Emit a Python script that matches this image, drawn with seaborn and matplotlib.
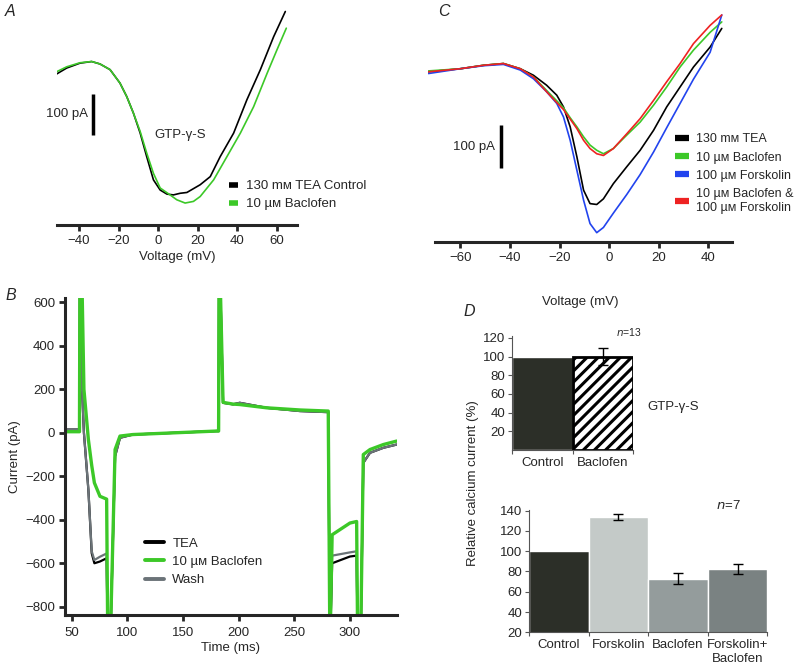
import matplotlib.pyplot as plt
import numpy as np
import pandas as pd
import seaborn as sns
from matplotlib.lines import Line2D

# ---- panel A: I-V curves with GTP-gamma-S (mV, pA relative) ----
a_ctrl_v = [-52.1, -46.2, -39.5, -33.6, -29.4, -24.3, -19.3, -15.9, -12.5, -9.1, -5.8, -2.4,
            1.0, 4.4, 7.7, 11.1, 14.5, 21.2, 26.3, 31.3, 38.1, 44.8, 51.6, 58.3, 64.2]
a_ctrl_i = [-33, -16, -4, 0, -6, -20, -53, -86, -127, -176, -234, -291,
            -316, -326, -328, -324, -322, -303, -283, -234, -176, -94, -20, 61, 123]
a_bac_v = [-52.1, -46.2, -39.5, -33.6, -29.4, -24.3, -19.3, -15.9, -12.5, -9.1, -5.8, -2.4,
           1.0, 6.0, 9.4, 13.6, 17.8, 21.2, 28.0, 34.7, 41.5, 48.2, 55.0, 60.0, 64.7]
a_bac_i = [-27, -13, -3, 0, -6, -20, -53, -86, -127, -172, -225, -275,
           -311, -328, -340, -348, -344, -332, -291, -234, -176, -111, -29, 29, 82]

# ---- panel C: I-V curves with forskolin ----
c_v = [-72.8, -60.0, -50.6, -42.6, -35.8, -30.5, -25.2, -21.1, -18.4, -15.7, -13.0, -10.3,
       -7.7, -5.0, -2.3, 1.7, 7.1, 12.5, 17.9, 23.2, 28.6, 34.0, 40.7, 45.4]
c_tea = [-19, -12, -4, 0, -12, -27, -50, -73, -100, -146, -215, -292,
         -323, -325, -312, -277, -238, -200, -154, -100, -54, -8, 38, 81]
c_bac = [-17, -12, -4, 0, -12, -31, -62, -86, -102, -125, -146, -169,
         -188, -200, -208, -196, -165, -135, -96, -54, -8, 31, 72, 96]
c_fsk = [-23, -12, -5, -2, -15, -35, -65, -92, -123, -177, -246, -315,
         -369, -390, -378, -345, -302, -256, -204, -148, -92, -36, 26, 112]
c_both = [-19, -12, -4, 0, -12, -31, -65, -90, -106, -128, -150, -177,
          -196, -208, -212, -196, -162, -127, -85, -42, 0, 46, 88, 112]

# ---- panel B: current traces over time ----
b_t = [44, 57, 57.5, 58.5, 61, 65, 68, 70.4, 75.4, 81.4, 82.5, 84.5, 89, 93.4, 105, 180,
       182, 182.5, 186, 195, 201, 225, 255, 280.5, 282, 284, 300, 306, 307, 309.5, 312,
       318, 330, 342]
b_tea = [15, 15, 900, 300, 0, -262, -554, -600, -592, -577, -1000, -1000, -108, -23, -8, 8,
         8, 900, 138, 131, 138, 115, 100, 95, -1000, -600, -569, -565, -1000, -1000, -138,
         -92, -69, -54]
b_bac = [5, 5, 900, 900, 200, -31, -150, -230, -292, -305, -1000, -1000, -77, -15, -8, 8,
         8, 900, 140, 132, 130, 115, 105, 100, -1000, -469, -415, -408, -1000, -1000, -100,
         -77, -54, -38]
b_wash = [15, 15, 900, 300, 0, -262, -545, -585, -570, -555, -1000, -1000, -108, -23, -8, 8,
          8, 900, 138, 131, 138, 115, 100, 95, -1000, -565, -550, -545, -1000, -1000, -138,
          -92, -69, -54]

# ---- panel D: relative calcium current (%) ----
d1_groups = ["Control", "Baclofen"]
d1_mean = [100, 100]
d1_err = [0, 9]
d2_groups = ["Control", "Forskolin", "Baclofen", "Forskolin+\nBaclofen"]
d2_mean = [100, 134, 73, 82]
d2_err = [0, 3, 5, 5]

GREEN = "#3cc828"
FS = 9.5
W, H = 798, 671

sns.set_theme(style="ticks")
plt.rcParams["font.family"] = ["Liberation Sans", "DejaVu Sans"]
plt.rcParams["font.size"] = FS
plt.rcParams["axes.linewidth"] = 2.2
plt.rcParams["hatch.linewidth"] = 2.2

fig = plt.figure(figsize=(W / 100, H / 100), dpi=100)


def rect(x0, x1, ytop, ybot):
    return [x0 / W, (H - ybot) / H, (x1 - x0) / W, (ybot - ytop) / H]


def trace_axis(ax):
    sns.despine(ax=ax, left=True)
    ax.set_yticks([])
    ax.tick_params(axis="x", length=4, width=2, labelsize=FS, pad=3)
    ax.set_xlabel("Voltage (mV)", fontsize=FS, labelpad=3)


def minus(vals):
    return [str(v).replace("-", "\u2212") for v in vals]


# ---- A ----
axA = fig.add_axes(rect(57, 297, 5, 225))
sns.lineplot(x=a_ctrl_v, y=a_ctrl_i, color="black", lw=1.2, sort=False, estimator=None, ax=axA)
sns.lineplot(x=a_bac_v, y=a_bac_i, color=GREEN, lw=1.2, sort=False, estimator=None, ax=axA)
axA.set_xlim(-51.1, 70.1)
axA.set_ylim(-402, 139)
axA.set_xticks([-40, -20, 0, 20, 40, 60])
axA.set_xticklabels(minus([-40, -20, 0, 20, 40, 60]))
trace_axis(axA)
axA.plot([-32.9, -32.9], [-180, -80], color="black", lw=2.5, solid_capstyle="butt")
axA.text(-35.5, -130, "100 pA", ha="right", va="center", fontsize=FS)
axA.text(11, -180, "GTP-\u03b3-S", ha="center", va="center", fontsize=FS)
axA.legend(handles=[Line2D([], [], color="black", lw=4, solid_capstyle="butt"),
                    Line2D([], [], color=GREEN, lw=4, solid_capstyle="butt")],
           labels=["130 m\u1d0d TEA Control", "10 \u00b5\u1d0d Baclofen"],
           loc="upper left", bbox_to_anchor=(0.69, 0.235), frameon=False,
           handlelength=0.7, handletextpad=0.6, labelspacing=0.45, borderpad=0, fontsize=FS)
fig.text(5 / W, 1 - 12 / H, "A", fontsize=11.5, style="italic", va="center")

# ---- C ----
axC = fig.add_axes(rect(428, 731.7, 5, 242))
sns.lineplot(x=c_v, y=c_tea, color="black", lw=1.2, sort=False, estimator=None, ax=axC)
sns.lineplot(x=c_v, y=c_bac, color=GREEN, lw=1.2, sort=False, estimator=None, ax=axC)
sns.lineplot(x=c_v, y=c_fsk, color="#2244ee", lw=1.2, sort=False, estimator=None, ax=axC)
sns.lineplot(x=c_v, y=c_both, color="#ee2222", lw=1.2, sort=False, estimator=None, ax=axC)
axC.set_xlim(-73, 49.4)
axC.set_ylim(-411.5, 135)
axC.set_xticks([-60, -40, -20, 0, 20, 40])
axC.set_xticklabels(minus([-60, -40, -20, 0, 20, 40]))
trace_axis(axC)
axC.spines["bottom"].set_bounds(-70, 49.4)
axC.xaxis.labelpad = 23
axC.plot([-43.5, -43.5], [-242, -142], color="black", lw=2.5, solid_capstyle="butt")
axC.text(-46, -192, "100 pA", ha="right", va="center", fontsize=FS)
axC.legend(handles=[Line2D([], [], color=c, lw=4.5, solid_capstyle="butt")
                    for c in ["black", GREEN, "#2244ee", "#ee2222"]],
           labels=["130 m\u1d0d TEA", "10 \u00b5\u1d0d Baclofen", "100 \u00b5\u1d0d Forskolin",
                   "10 \u00b5\u1d0d Baclofen &\n100 \u00b5\u1d0d Forskolin"],
           loc="upper left", bbox_to_anchor=(0.792, 0.485), frameon=False,
           handlelength=1.1, handletextpad=0.6, labelspacing=0.5, borderpad=0, fontsize=9)
fig.text(438 / W, 1 - 12 / H, "C", fontsize=11.5, style="italic", va="center")

# ---- B ----
axB = fig.add_axes(rect(65, 396.7, 298, 615))
sns.lineplot(x=b_t, y=b_tea, color="black", lw=1.6, sort=False, estimator=None, ax=axB)
sns.lineplot(x=b_t, y=b_wash, color="#6b7378", lw=1.6, sort=False, estimator=None, ax=axB)
sns.lineplot(x=b_t, y=b_bac, color=GREEN, lw=2.4, sort=False, estimator=None, ax=axB)
axB.set_xlim(44, 342)
axB.set_ylim(-838, 620)
axB.set_yticks(range(-800, 601, 200))
axB.set_yticklabels(minus(range(-800, 601, 200)))
axB.set_xticks(range(50, 301, 50))
sns.despine(ax=axB)
axB.tick_params(length=4, width=2, labelsize=FS, pad=3)
axB.tick_params(axis="x", pad=5)
axB.set_xlabel("Time (ms)", fontsize=FS, labelpad=2)
axB.set_ylabel("Current (pA)", fontsize=FS, labelpad=3)
axB.legend(handles=[Line2D([], [], color=c, lw=2.8) for c in ["black", GREEN, "#6b7378"]],
           labels=["TEA", "10 \u00b5\u1d0d Baclofen", "Wash"],
           loc="upper left", bbox_to_anchor=(0.22, 0.265), frameon=False,
           handlelength=1.5, handletextpad=0.6, labelspacing=0.45, borderpad=0, fontsize=FS)
fig.text(5 / W, 1 - 296 / H, "B", fontsize=11.5, style="italic", va="center")


# ---- D ----
def bar_axis(ax, groups, means, errs, colors, ylim, yticks):
    df = pd.DataFrame({"group": groups, "value": means})
    sns.barplot(data=df, x="group", y="value", hue="group", palette=colors, width=1.0,
                saturation=1, legend=False, ax=ax)
    idx = [i for i, e in enumerate(errs) if e > 0]
    ax.errorbar(idx, [means[i] for i in idx], yerr=[errs[i] for i in idx], fmt="none",
                ecolor="black", elinewidth=1, capsize=3.5, capthick=1)
    ax.set_xlim(-0.5, len(groups) - 0.5)
    ax.set_ylim(*ylim)
    ax.set_yticks(yticks)
    ax.set_xlabel("")
    ax.set_ylabel("")
    sns.despine(ax=ax)
    for s in ["left", "bottom"]:
        ax.spines[s].set_linewidth(0.8)
        ax.spines[s].set_color("#555555")
    ax.set_xticks(np.arange(len(groups) + 1) - 0.5, minor=True)
    ax.tick_params(axis="x", which="major", length=0, labelsize=FS, pad=5)
    ax.tick_params(axis="x", which="minor", length=3, width=0.8, color="#555555")
    ax.tick_params(axis="y", length=3, width=0.8, color="#555555", labelsize=FS, pad=2)


axD1 = fig.add_axes(rect(512, 633, 336, 450))
bar_axis(axD1, d1_groups, d1_mean, d1_err, ["#2c2f28", "white"], (0, 122),
         [20, 40, 60, 80, 100, 120])
hatched = axD1.patches[1]
hatched.set_hatch("///")
hatched.set_edgecolor("black")
hatched.set_linewidth(2)
axD1.text(0.967, 1.035, "$n$=13", transform=axD1.transAxes, ha="center", va="center",
          fontsize=7.5)
fig.text(673 / W, 1 - 407 / H, "GTP-\u03b3-S", ha="center", va="center", fontsize=FS)

axD2 = fig.add_axes(rect(529, 767.3, 509.6, 632.3))
bar_axis(axD2, d2_groups, d2_mean, d2_err, ["#2c2f28", "#c4cac8", "#949c9c", "#7a8282"],
         (20, 141), [20, 40, 60, 80, 100, 120, 140])
axD2.text(0.835, 1.037, "$n$=7", transform=axD2.transAxes, ha="center", va="center",
          fontsize=FS)
fig.text(473 / W, 1 - 483 / H, "Relative calcium current (%)", rotation=90,
         ha="center", va="center", fontsize=FS)
fig.text(463 / W, 1 - 311 / H, "D", fontsize=11.5, style="italic", va="center")

fig.savefig("out.png", dpi=100)
